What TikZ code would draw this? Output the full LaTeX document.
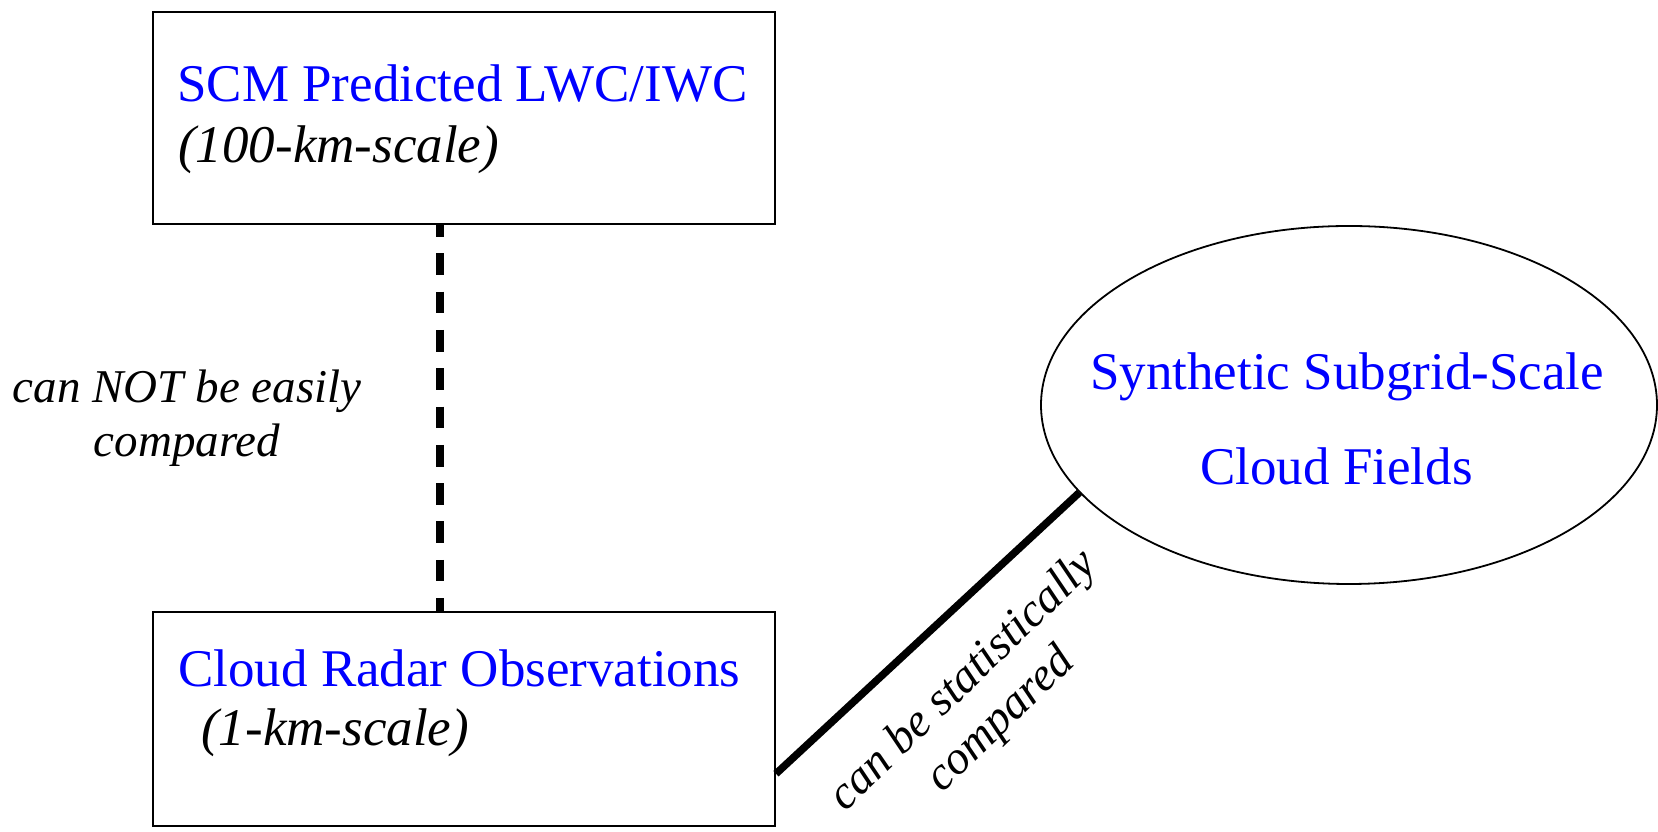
\documentclass[tikz,border=0pt]{standalone}
\usepackage{fontspec}
\setmainfont{Liberation Serif}
\usetikzlibrary{shapes.geometric}
\definecolor{titleblue}{RGB}{0,0,255}

\begin{document}
\begin{tikzpicture}[x=1pt,y=1pt,
  box/.style={draw, line width=2pt, inner sep=0pt},
  cloud/.style={draw, ellipse, line width=1.8pt, inner sep=0pt},
  title/.style={text=titleblue, font=\fontsize{53}{60}\selectfont, inner sep=0pt, anchor=base west},
  scalenote/.style={font=\fontsize{53}{60}\selectfont\itshape, inner sep=0pt, anchor=base west},
  note/.style={font=\fontsize{47}{54}\selectfont\itshape, align=center, inner sep=0pt},
  link/.style={line width=7.5pt}]
\useasboundingbox (0,0) rectangle (1658,832);

% boxes and the ellipse
\node[box, minimum width=622, minimum height=212] (scm) at (464,714.2) {};
\node[box, minimum width=622, minimum height=214] (obs) at (464,113.3) {};
\node[cloud, minimum width=616, minimum height=358] (syn) at (1349,427) {};

% texts inside the shapes
\node[title] (scmtitle) at (177,730) {SCM Predicted LWC/IWC};
\node[scalenote] (scmscale) at (178,669) {(100-km-scale)};
\node[title] (obstitle) at (178,145) {Cloud Radar Observations};
\node[scalenote] (obsscale) at (201,86) {(1-km-scale)};
\node[title] (syntitle) at (1090,442) {Synthetic Subgrid-Scale};
\node[title] (syntitleb) at (1200,347) {Cloud Fields};

% connectors
\coordinate (dashx) at (440,0);
\draw[link, dash pattern=on 21.7pt off 16.6pt, dash phase=9.7pt]
  (dashx |- scm.south) -- (dashx |- obs.north);
\draw[link] (obs.-10.9) -- (syn.198.4);

% connector labels
\node[note] (hard) at (187,414.2) {can NOT be easily\\compared};
\node[note, rotate=44] (stat) at (983,131) {can be statistically\\compared};
\end{tikzpicture}
\end{document}
